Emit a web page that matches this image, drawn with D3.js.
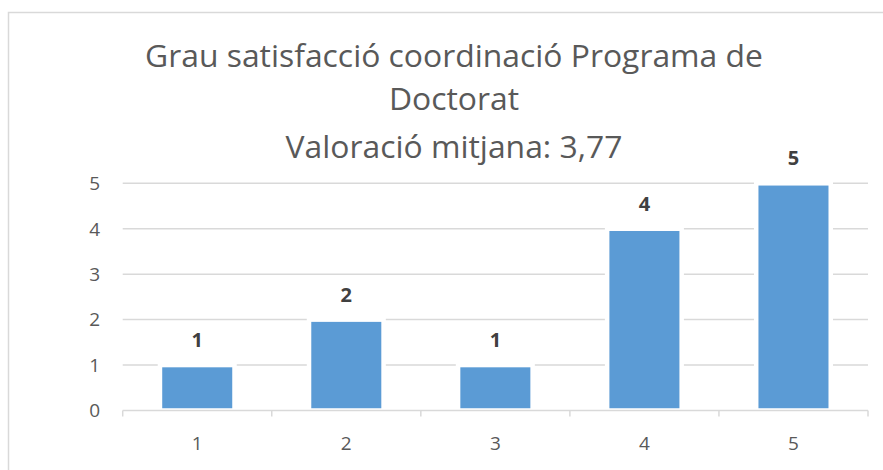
<!DOCTYPE html>
<html>
<head>
<meta charset="utf-8">
<script src="https://cdn.jsdelivr.net/npm/d3@7"></script>
<style>
  body { margin: 0; background: #fff; }
  svg { display: block; font-family: "Open Sans", sans-serif; }
</style>
</head>
<body>
<div id="chart"></div>
<script>
// values
var categories = ["1", "2", "3", "4", "5"];
var counts = [1, 2, 1, 4, 5];
var yTicks = [0, 1, 2, 3, 4, 5];
var titleLines = ["Grau satisfacció coordinació Programa de", "Doctorat", "Valoració mitjana: 3,77"];

var W = 883, H = 470;
var plot = { left: 122.7, right: 868, top: 183.3, bottom: 410.5 };

var svg = d3.select("#chart").append("svg")
  .attr("width", W).attr("height", H);

// chart border
svg.append("rect")
  .attr("x", 8.5).attr("y", 12.5)
  .attr("width", W + 20).attr("height", H + 20)
  .attr("fill", "#fff").attr("stroke", "#d9d9d9").attr("stroke-width", 1.5);

var x = d3.scaleBand().domain(categories)
  .range([plot.left, plot.right])
  .paddingInner(0.5).paddingOuter(0.25);

var y = d3.scaleLinear().domain([0, 5]).range([plot.bottom, plot.top]);

// gridlines
svg.append("g").selectAll("line")
  .data(yTicks.filter(function (d) { return d > 0; }))
  .join("line")
  .attr("x1", plot.left).attr("x2", plot.right)
  .attr("y1", function (d) { return y(d); })
  .attr("y2", function (d) { return y(d); })
  .attr("stroke", "#d9d9d9").attr("stroke-width", 1.5);

// y labels
svg.append("g").selectAll("text")
  .data(yTicks)
  .join("text")
  .attr("x", 100)
  .attr("y", function (d) { return y(d); })
  .attr("dy", "0.36em")
  .attr("text-anchor", "end")
  .attr("fill", "#595959")
  .style("font-size", "19px")
  .text(function (d) { return d; });

// bars
svg.append("g").selectAll("rect")
  .data(counts)
  .join("rect")
  .attr("x", function (d, i) { return x(categories[i]); })
  .attr("y", function (d) { return y(d); })
  .attr("width", x.bandwidth())
  .attr("height", function (d) { return y(0) - y(d); })
  .attr("fill", "#5b9bd5")
  .attr("stroke", "#fff").attr("stroke-width", 4.5);

// x axis line with boundary ticks
var step = x.step();
var bounds = d3.range(categories.length + 1).map(function (i) {
  return plot.left + i * step;
});
svg.append("line")
  .attr("x1", plot.left).attr("x2", plot.right)
  .attr("y1", plot.bottom).attr("y2", plot.bottom)
  .attr("stroke", "#d9d9d9").attr("stroke-width", 1.5);
svg.append("g").selectAll("line")
  .data(bounds)
  .join("line")
  .attr("x1", function (d) { return d; }).attr("x2", function (d) { return d; })
  .attr("y1", plot.bottom).attr("y2", plot.bottom + 6)
  .attr("stroke", "#d9d9d9").attr("stroke-width", 1.5);

// x labels
svg.append("g").selectAll("text")
  .data(categories)
  .join("text")
  .attr("x", function (d) { return x(d) + x.bandwidth() / 2; })
  .attr("y", 450)
  .attr("text-anchor", "middle")
  .attr("fill", "#595959")
  .style("font-size", "19px")
  .text(function (d) { return d; });

// data labels
svg.append("g").selectAll("text")
  .data(counts)
  .join("text")
  .attr("x", function (d, i) { return x(categories[i]) + x.bandwidth() / 2; })
  .attr("y", function (d) { return y(d) - 18; })
  .attr("text-anchor", "middle")
  .attr("fill", "#404040")
  .style("font-size", "20px")
  .style("font-weight", "bold")
  .text(function (d) { return d; });

// title, sized so the first line spans about 618px
var baselines = [66.7, 110, 158];
var title = svg.append("g").selectAll("text")
  .data(titleLines)
  .join("text")
  .attr("x", 454)
  .attr("y", function (d, i) { return baselines[i]; })
  .attr("text-anchor", "middle")
  .attr("fill", "#595959")
  .style("font-size", "28px")
  .text(function (d) { return d; });

var w0 = title.nodes()[0].getComputedTextLength();
title.style("font-size", (28 * 618 / w0) + "px");
</script>
</body>
</html>
